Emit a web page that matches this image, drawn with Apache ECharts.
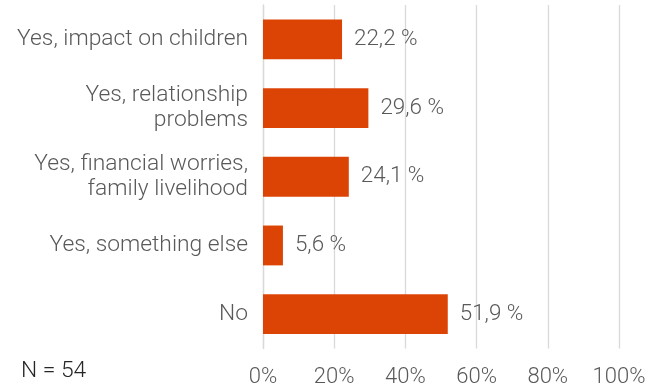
<!DOCTYPE html>
<html>
<head>
<meta charset="utf-8">
<script src="https://cdn.jsdelivr.net/npm/echarts@6/dist/echarts.min.js"></script>
<style>
html,body{margin:0;padding:0;background:#fff;}
#c{width:661px;height:392px;}
</style>
</head>
<body>
<div id="c"></div>
<script>
const categories = [
  "Yes, impact on children",
  "Yes, relationship\nproblems",
  "Yes, financial worries,\nfamily livelihood",
  "Yes, something else",
  "No"
];
const values = [22.2, 29.6, 24.1, 5.6, 51.9];
const xTicks = [0, 20, 40, 60, 80, 100];
const note = "N = 54";

const chart = echarts.init(document.getElementById('c'), null, {renderer: 'canvas'});
const FONT = 'Roboto';
chart.setOption({
  animation: false,
  backgroundColor: '#ffffff',
  grid: {left: 263, right: 42, top: 5, bottom: 43.5, containLabel: false},
  xAxis: {
    type: 'value',
    min: xTicks[0],
    max: xTicks[xTicks.length - 1],
    interval: 20,
    axisLine: {show: false},
    axisTick: {show: false},
    splitLine: {show: true, lineStyle: {color: '#d9d9d9', width: 1.3}},
    axisLabel: {
      color: '#595959', fontFamily: FONT, fontWeight: 300, fontSize: 22, margin: 18,
      formatter: v => v + '%'
    }
  },
  yAxis: {
    type: 'category',
    inverse: true,
    data: categories,
    axisLine: {show: true, lineStyle: {color: '#d9d9d9', width: 1.3}},
    axisTick: {show: false},
    axisLabel: {
      color: '#595959', fontFamily: FONT, fontWeight: 300, fontSize: 22.8,
      lineHeight: 25, margin: 15, align: 'right'
    }
  },
  series: [{
    type: 'bar',
    data: values,
    barCategoryGap: '42%',
    itemStyle: {color: '#dc4405'},
    label: {
      show: true, position: 'right', distance: 12,
      color: '#595959', fontFamily: FONT, fontWeight: 300, fontSize: 22.4,
      formatter: p => p.value.toFixed(1).replace('.', ',') + ' %'
    }
  }],
  graphic: [{
    type: 'text', left: 21, top: 360,
    style: {text: note, fill: '#262626', font: '300 22.8px Roboto'}
  }]
});
</script>
</body>
</html>
